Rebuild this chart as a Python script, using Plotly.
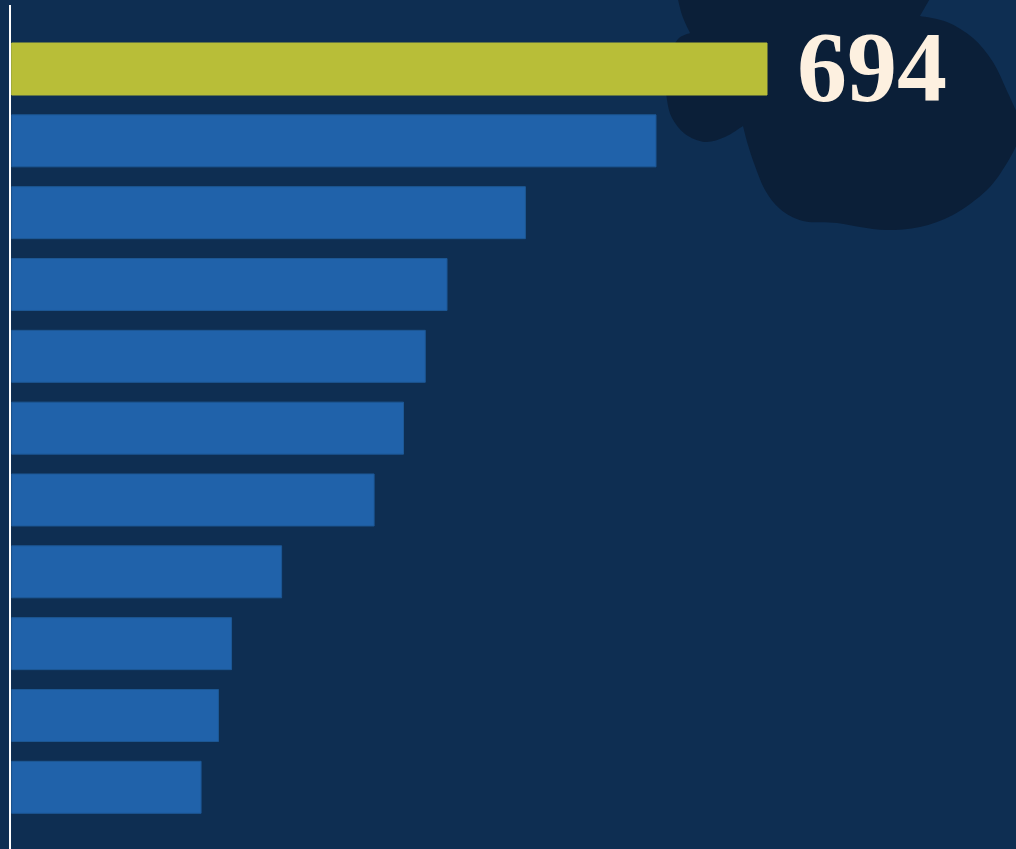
import plotly.graph_objects as go

# Ranked values, largest first
ranks = ["1", "2", "3", "4", "5", "6", "7", "8", "9", "10", "11"]
values = [694, 592, 472, 400, 380, 360, 333, 248, 202, 190, 174]
highlight_label = "694"

W, H = 1016, 849
BG = "#0E2E52"
BLOB = "#0B1F38"
BLUE = "#2062AA"
LIME = "#B8BE38"
CREAM = "#FDF0E0"

bar_colors = [LIME] + [BLUE] * (len(values) - 1)
line_colors = [LIME] + ["#1D5895"] * (len(values) - 1)

fig = go.Figure(
    go.Bar(
        x=values,
        y=list(range(len(values))),
        orientation="h",
        width=0.724,
        marker=dict(color=bar_colors, line=dict(color=line_colors, width=1)),
        hoverinfo="skip",
    )
)


def px(x, y):
    return x / W, 1 - y / H


def smooth_path(points):
    """Catmull-Rom spline through points, returned as cubic bezier segments."""
    segs = []
    n = len(points)
    for i in range(n - 1):
        p0 = points[i - 1] if i > 0 else points[i]
        p1 = points[i]
        p2 = points[i + 1]
        p3 = points[i + 2] if i + 2 < n else points[i + 1]
        c1 = (p1[0] + (p2[0] - p0[0]) / 6, p1[1] + (p2[1] - p0[1]) / 6)
        c2 = (p2[0] - (p3[0] - p1[0]) / 6, p2[1] - (p3[1] - p1[1]) / 6)
        a, b, c = px(*c1), px(*c2), px(*p2)
        segs.append(f"C{a[0]:.5f},{a[1]:.5f} {b[0]:.5f},{b[1]:.5f} {c[0]:.5f},{c[1]:.5f}")
    return " ".join(segs)


# Decorative blob behind the top value
runs = [
    [(677, -5), (682, 15), (690, 33)],
    [(690, 33), (678, 39), (670, 56), (666, 80), (667, 100), (672, 118),
     (685, 134), (705, 142), (725, 137), (743, 126)],
    [(743, 126), (748, 145), (755, 166), (765, 190), (780, 209), (803, 221),
     (837, 223), (860, 227), (887, 230), (920, 227), (953, 215), (987, 190),
     (1007, 163), (1019, 140)],
    [(1019, 117), (1007, 91), (993, 62), (973, 38), (947, 22), (920, 16)],
    [(920, 16), (932, -5)],
]
s = px(*runs[0][0])
path = f"M{s[0]:.5f},{s[1]:.5f} "
for r in runs:
    first = px(*r[0])
    path += f"L{first[0]:.5f},{first[1]:.5f} " + smooth_path(r) + " "
path += "Z"

fig.add_shape(type="path", path=path, xref="paper", yref="paper",
              fillcolor=BLOB, line=dict(width=0), layer="below")

# Vertical baseline on the left
fig.add_shape(type="line", xref="paper", yref="paper",
              x0=10 / W, x1=10 / W, y0=0, y1=1 - 5 / H,
              line=dict(color="#FFFFFF", width=2))

fig.add_annotation(
    x=values[0], y=0, xref="x", yref="y",
    text=f"<b>{highlight_label}</b>",
    showarrow=False, xanchor="left", yanchor="middle",
    xshift=28, yshift=3,
    font=dict(family="Liberation Serif", size=100, color=CREAM),
)

# Axis ranges chosen so 0 sits at the left baseline
x0_px = 11.7
scale = (767 - x0_px) / values[0]
xmin = -x0_px / scale
xmax = xmin + W / scale
pitch = 71.83
ytop = -69 / pitch
ybot = (H - 69) / pitch

fig.update_layout(
    width=W, height=H,
    margin=dict(l=0, r=0, t=0, b=0),
    paper_bgcolor=BG, plot_bgcolor=BG,
    showlegend=False,
    xaxis=dict(range=[xmin, xmax], visible=False, fixedrange=True),
    yaxis=dict(range=[ybot, ytop], visible=False, fixedrange=True),
)

fig.write_html("out.html")
